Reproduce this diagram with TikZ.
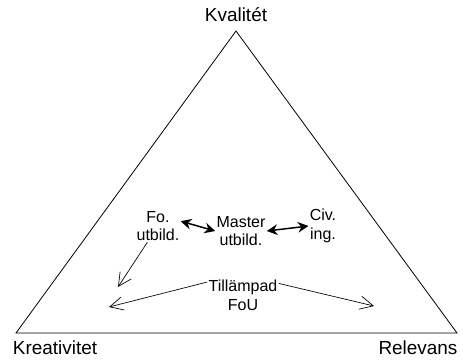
\documentclass[tikz,border=0pt]{standalone}
\usepackage{fontspec}
\setmainfont{Liberation Sans}
\usetikzlibrary{
    arrows.meta,
    positioning
}
\tikzset{
    every picture/.style = {
        x = 0.75pt,
        y = -0.75pt,
        line width = 0.6pt
    },
    every node/.style = {
        inner sep = 1pt,
        outer sep = 0pt,
        align = center,
        font = \fontsize{12}{14}\selectfont
    },
    corner/.style = {
        font = \fontsize{14.2}{17}\selectfont
    },
    link/.style = {
        {Stealth[length=8pt,width=8pt]}-{Stealth[length=8pt,width=8pt]},
        line width = 1.1pt
    },
    pointer/.style = {
        -{Straight Barb[length=10pt,width=10pt]},
        line width = 0.5pt
    }
}

\begin{document}
\begin{tikzpicture}
    \useasboundingbox (0, 0) rectangle (463, 362);
    % corners of the triangle
    \coordinate (top) at (236, 31);
    \coordinate (left) at (16, 333);
    \coordinate (right) at (457, 333);
    \draw (top) -- (right) -- (left) -- cycle;

    \node[corner] (kval) at (236, 15) {Kvalitét};
    \node[corner] (krea) at (55, 348) {Kreativitet};
    \node[corner] (rele) at (418, 348) {Relevans};

    \node (fo) at (158, 226) {Fo.\\utbild.};
    \node (master) at (241, 231) {Master\\utbild.};
    \node (civ) at (323, 226) {Civ.\\ing.};
    \node (till) at (243, 295) {Tillämpad\\FoU};

    \coordinate (foend) at (118, 287);
    \coordinate (tillleft) at (109, 307);
    \coordinate (tillright) at (374, 306);

    \draw[link] (fo.12) -- (master.west);
    \draw[link] (master.east) -- (civ.west);
    \draw[pointer] (fo) -- (foend);
    \draw[pointer] (till.160) -- (tillleft);
    \draw[pointer] (till.18) -- (tillright);
\end{tikzpicture}
\end{document}
